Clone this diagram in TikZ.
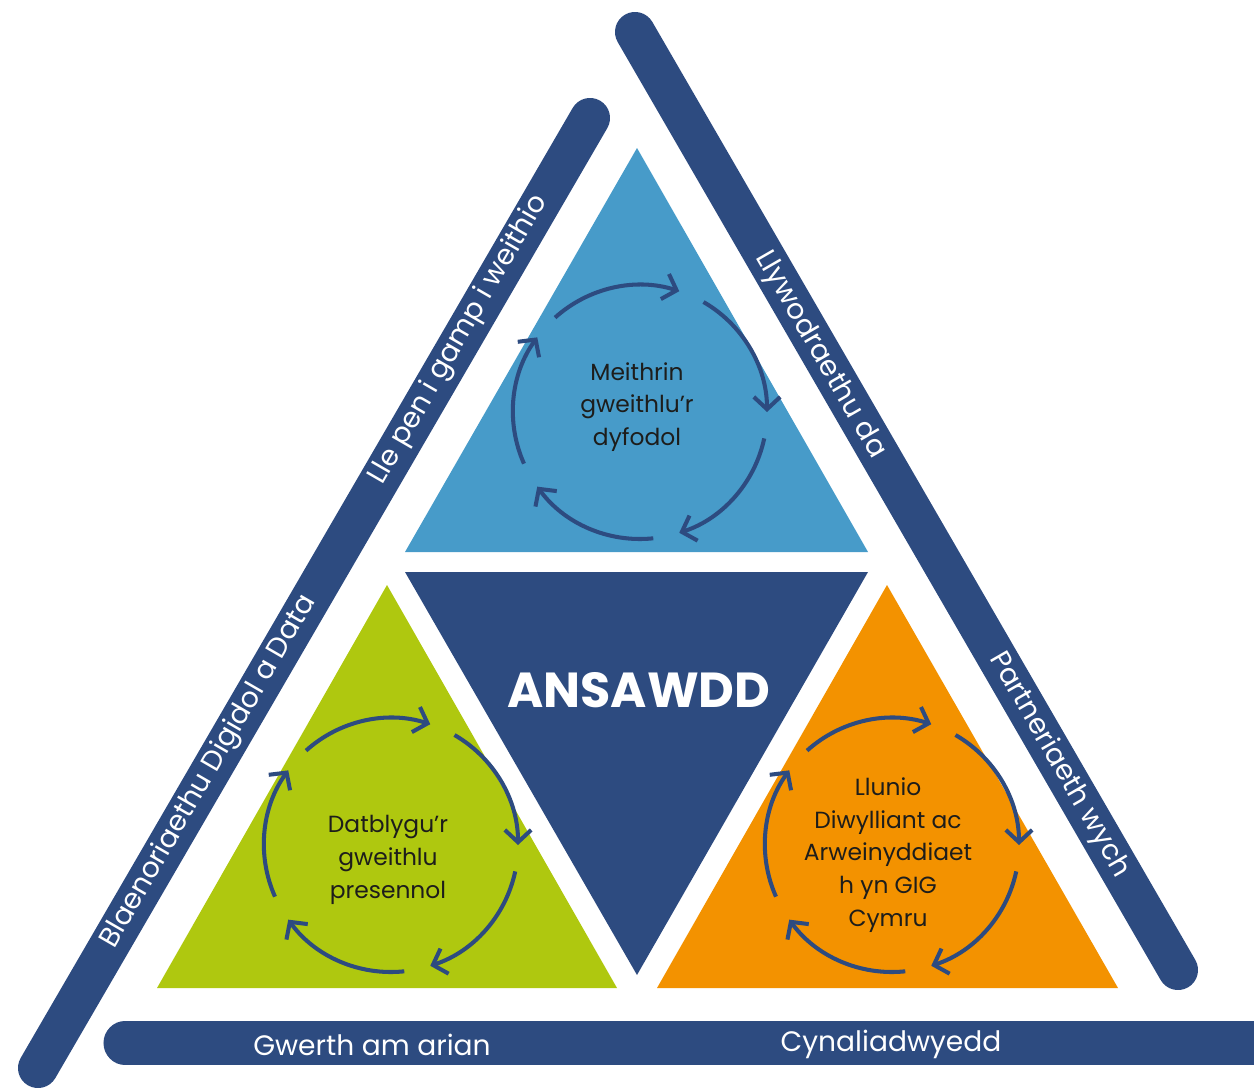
\documentclass[tikz,border=0pt]{standalone}
\usepackage{fontspec}
\setmainfont{Poppins}
\usetikzlibrary{arrows.meta}
\definecolor{navy}{RGB}{45,75,128}
\definecolor{sky}{RGB}{71,155,201}
\definecolor{lime}{RGB}{175,200,15}
\definecolor{amber}{RGB}{243,146,0}
\definecolor{ink}{RGB}{29,29,27}

\begin{document}
\begin{tikzpicture}[
    x=0.02cm, y=-0.02cm,
    bar/.style={draw=navy, line width=22.8pt, line cap=round},
    bartext/.style={text=white, font=\fontsize{16}{18}\selectfont},
    celltext/.style={text=ink, align=center, font=\fontsize{13.3}{18.6}\selectfont},
    turn/.style={draw=navy, line width=2.3pt, -{Straight Barb[length=7pt,width=15pt,line width=2.3pt]}}
]
    \useasboundingbox (0,0) rectangle (1254,1088);

    \coordinate (lbBot) at (38,1068);
    \coordinate (lbTop) at (590,118);
    \coordinate (rbTop) at (635,32);
    \coordinate (rbBot) at (1178,970);
    \coordinate (bbL) at (125,1043);
    \coordinate (bbR) at (1290,1043);
    \draw[bar] (lbBot) -- (lbTop);
    \draw[bar] (rbTop) -- (rbBot);
    \draw[bar, line width=24.5pt] (bbL) -- (bbR);

    \node[bartext, rotate=60] (blaen) at (209,772) {Blaenoriaethu Digidol a Data};
    \node[bartext, rotate=60] (lle) at (459,340) {Lle pen i gamp i weithio};
    \node[bartext, rotate=-60] (llyw) at (820,355) {Llywodraethu da};
    \node[bartext, rotate=-60] (partn) at (1059,765) {Partneriaeth wych};
    \node[bartext] (gwerth) at (372,1045) {Gwerth am arian};
    \node[bartext] (cynal) at (891,1044) {Cynaliadwyedd};

    \fill[sky] (637,148) -- (868,552) -- (405,552) -- cycle;
    \fill[navy] (405,572) -- (868,572) -- (637,975) -- cycle;
    \fill[lime] (387,585) -- (617,988) -- (157,988) -- cycle;
    \fill[amber] (887,585) -- (1118,988) -- (657,988) -- cycle;

    \node[text=white, font=\fontsize{28}{30}\selectfont\bfseries] (ansawdd) at (639,690) {ANSAWDD};

    \node[celltext] (meithrin) at (637,407) {Meithrin\\gweithlu’r\\dyfodol};
    \node[celltext] (datblygu) at (388,860) {Datblygu’r\\gweithlu\\presennol};
    \node[celltext] (llunio) at (888,855) {Llunio\\Diwylliant ac\\Arweinyddiaet\\h yn GIG\\Cymru};

    \foreach \cx/\cy in {640/412, 391/845, 892/845}
        \foreach \i in {0,...,4}
            \draw[turn] ({\cx+127*cos(-132+72*\i)},{\cy+127*sin(-132+72*\i)})
                arc[start angle=-132+72*\i, end angle=-72+72*\i, radius=127];
\end{tikzpicture}
\end{document}
